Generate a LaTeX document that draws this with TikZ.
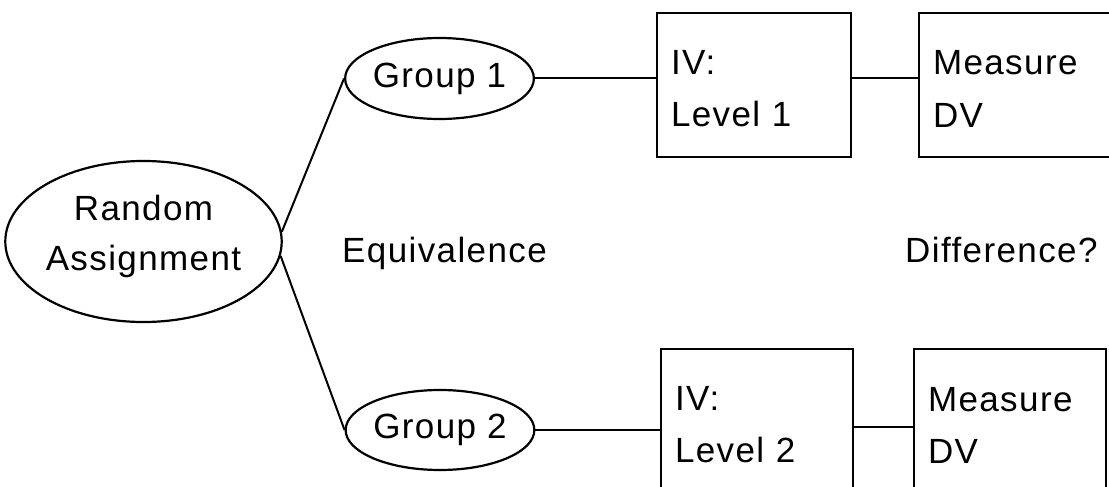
\documentclass[tikz,border=0pt]{standalone}
\usepackage{fontspec}
\setmainfont{Liberation Sans}[LetterSpace=4]
\usetikzlibrary{shapes.geometric}
\tikzset{
  oval/.style={ellipse, draw, line width=2.2pt, inner sep=0pt, align=center,
    font=\fontsize{35pt}{50pt}\selectfont},
  stepbox/.style={rectangle, draw, line width=2.2pt, inner xsep=14pt, inner ysep=0pt,
    align=left, minimum height=144pt, font=\fontsize{35pt}{52pt}\selectfont},
  link/.style={line width=2pt},
  plain/.style={inner sep=0pt, anchor=base west, font=\fontsize{35pt}{42pt}\selectfont}
}
\begin{document}
\begin{tikzpicture}[x=1pt,y=-1pt]
\useasboundingbox (0,0) rectangle (1109,487);
\node[oval, minimum width=263pt, minimum height=161pt] (ra) at (143.5,241.5)
  {Random\\Assignment\rule[-18pt]{0pt}{18pt}};
\node[oval, minimum width=177pt, minimum height=81pt] (g1) at (439.5,78.5) {Group 1};
\node[oval, minimum width=176pt, minimum height=80pt] (g2) at (440,430) {Group 2};
\node[stepbox, minimum width=194pt, text width=166pt] (iv1) at (754,85)
  {\rule{0pt}{32pt}IV:\\Level 1};
\node[stepbox, minimum width=194pt, text width=166pt] (m1) at (1016,85)
  {\rule{0pt}{32pt}Measure\\DV};
\node[stepbox, minimum width=192pt, text width=164pt] (iv2) at (757,421)
  {\rule{0pt}{32pt}IV:\\Level 2};
\node[stepbox, minimum width=192pt, text width=164pt] (m2) at (1010,421)
  {\rule{0pt}{32pt}Measure\\DV};
\node[plain] (eq) at (342,262) {Equivalence};
\node[plain] (df) at (905,262) {Difference?};
\draw[link] (ra.4) -- (g1.west);
\draw[link] (ra.-6) -- (g2.west);
\draw[link] (g1.east) -- (g1.east -| iv1.west);
\draw[link] (iv1.east |- g1.east) -- (m1.west |- g1.east);
\draw[link] (g2.east) -- (g2.east -| iv2.west);
\draw[link] ([yshift=3pt]iv2.east |- g2.east) -- ([yshift=3pt]m2.west |- g2.east);
\end{tikzpicture}
\end{document}
